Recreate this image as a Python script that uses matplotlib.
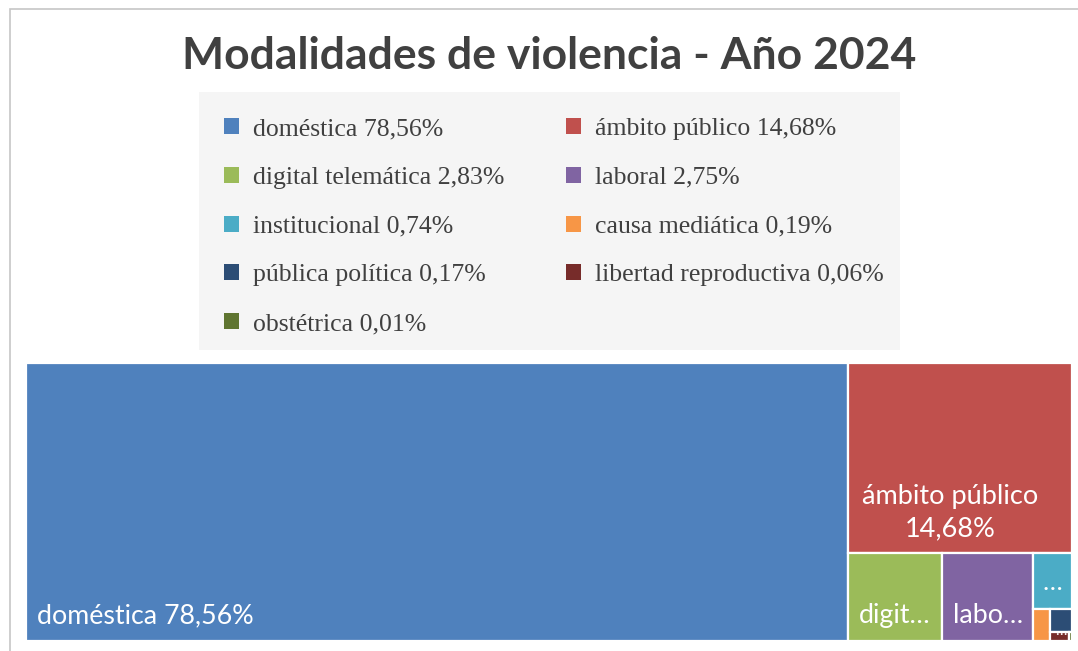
import matplotlib
matplotlib.use('Agg')
import matplotlib.pyplot as plt
from matplotlib.patches import Rectangle, Patch

names = ['doméstica', 'ámbito público', 'digital telemática', 'laboral', 'institucional',
         'causa mediática', 'pública política', 'libertad reproductiva', 'obstétrica']
values = [78.56, 14.68, 2.83, 2.75, 0.74, 0.19, 0.17, 0.06, 0.01]
colors = ['#4F81BD', '#C0504D', '#9BBB59', '#8064A2', '#4BACC6',
          '#F79646', '#2C4D75', '#772C2A', '#5F7530']
# text shown inside each tile (Excel truncates what doesn't fit)
tile_labels = ['doméstica 78,56%', 'ámbito público\n14,68%', 'digit…', 'labo…', '…',
               '', '…', '', '']


def pct(v):
    return f'{v:.2f}'.replace('.', ',') + '%'


def worst(row, side):
    s = sum(row)
    return max(max(side * side * r / (s * s), s * s / (side * side * r)) for r in row)


def squarify(vals, x, y, w, h):
    total = sum(vals)
    areas = [v * w * h / total for v in vals]
    rects = []
    i = 0
    while i < len(areas):
        side = min(w, h)
        row = [areas[i]]
        j = i + 1
        while j < len(areas) and worst(row + [areas[j]], side) <= worst(row, side):
            row.append(areas[j])
            j += 1
        s = sum(row)
        if w >= h:
            cw = s / h
            yy = y
            for a in row:
                rects.append((x, yy, cw, a / cw))
                yy += a / cw
            x += cw
            w -= cw
        else:
            rh = s / w
            xx = x
            for a in row:
                rects.append((xx, y, a / rh, rh))
                xx += a / rh
            y += rh
            h -= rh
        i = j
    return rects


W, H = 1046, 278
fig = plt.figure(figsize=(10.78, 6.51), dpi=100)
FW, FH = 1078, 651

# outer chart border (top and left visible)
fig.patches.append(Rectangle((10 / FW, -0.05), 1.2, 1 - 9 / FH + 0.05, transform=fig.transFigure,
                             fill=False, edgecolor='#c6c6c6', linewidth=1.2))

fig.text(549 / FW, 1 - 56 / FH, 'Modalidades de violencia - Año 2024', ha='center', va='center',
         fontsize=32, fontweight='bold', family='Lato', color='#404040')

# legend background
fig.patches.append(Rectangle((199 / FW, 1 - 350 / FH), 701 / FW, 258 / FH,
                             transform=fig.transFigure, facecolor='#f5f5f5', edgecolor='none'))

handles = [Patch(facecolor=c, edgecolor='none') for c in colors]
labels = [f'{n} {pct(v)}' for n, v in zip(names, values)]
order = list(range(0, len(names), 2)) + list(range(1, len(names), 2))
fig.legend([handles[k] for k in order], [labels[k] for k in order], ncol=2,
           loc='upper left', bbox_to_anchor=(224 / FW, 1 - 118 / FH), frameon=False,
           prop={'family': 'Liberation Serif', 'size': 18.5}, labelcolor='#404040',
           handlelength=0.58, handleheight=0.58, handletextpad=0.55,
           columnspacing=2.4, labelspacing=1.04, borderpad=0, borderaxespad=0)

ax = fig.add_axes([26 / FW, 10 / FH, W / FW, H / FH])
ax.set_xlim(0, W)
ax.set_ylim(H, 0)
ax.axis('off')

rects = squarify(values, 0, 0, W, H)
for (x, y, w, h), c, lab in zip(rects, colors, tile_labels):
    ax.add_patch(Rectangle((x, y), w, h, facecolor=c, edgecolor='white', linewidth=1.6))
    if not lab:
        continue
    if '\n' in lab:
        ax.annotate(lab, (x + w / 2, y + h), xytext=(-10, 12), textcoords='offset pixels',
                    ha='center', va='bottom', color='white', fontsize=19.5, family='Lato',
                    linespacing=1.35)
    elif lab == '…':
        fs = 19 if h > 40 else 11
        off = 14 if h > 40 else -6
        ax.annotate(lab, (x + w / 2, y + h), xytext=(0, off), textcoords='offset pixels',
                    ha='center', va='bottom', color='white', fontsize=fs, family='Lato')
    else:
        ax.annotate(lab, (x, y + h), xytext=(11, 13), textcoords='offset pixels',
                    ha='left', va='bottom', color='white', fontsize=19.3, family='Lato')

fig.savefig('out.png', dpi=100)
